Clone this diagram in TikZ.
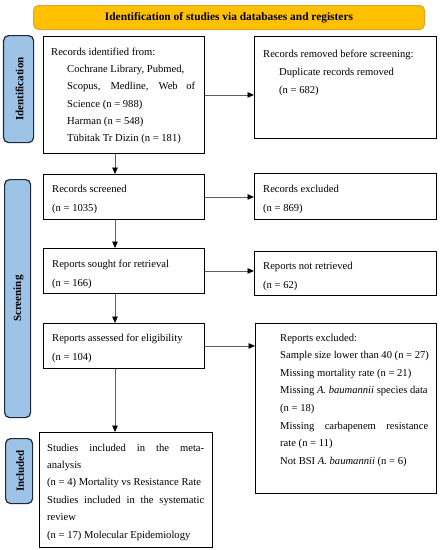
\documentclass[tikz,border=0pt]{standalone}
\usepackage{fontspec}
\setmainfont{Liberation Serif}
\usetikzlibrary{arrows.meta}
\definecolor{barblue}{RGB}{157,195,230}
\definecolor{barline}{RGB}{30,40,55}
\definecolor{bannergold}{RGB}{255,192,0}
\definecolor{bannerline}{RGB}{222,165,40}
\definecolor{arrgray}{RGB}{95,95,95}
\begin{document}
\begin{tikzpicture}[x=1pt,y=-1pt,
 box/.style={draw=black, line width=0.9pt, inner sep=0, anchor=north west},
 bar/.style={draw=barline, fill=barblue, rounded corners=5pt, line width=1.2pt, inner sep=0, anchor=north west},
 banner/.style={draw=bannerline, fill=bannergold, rounded corners=5pt, line width=1pt, inner sep=0, anchor=north west, font=\bfseries\fontsize{11.4}{13}\selectfont},
 txt/.style={inner sep=0, anchor=north west, align=left, font=\fontsize{10.6}{17.3}\selectfont},
 txtw/.style={inner sep=0, anchor=north west, align=left, font=\fontsize{10.6}{19}\selectfont},
 bartxt/.style={rotate=90, inner sep=0, font=\bfseries\fontsize{11}{13}\selectfont},
 arr/.style={draw=arrgray, line width=0.8pt, -{Triangle[length=6.5pt,width=5.5pt,color=black]}},
]
\useasboundingbox (0,0) rectangle (442,550);
\node[banner, minimum width=391pt, minimum height=24pt] (banner) at (33,5) {Identification of studies via databases and registers};

\node[bar, minimum width=30pt, minimum height=107pt] (idbar) at (3,35) {};
\node[bar, minimum width=26pt, minimum height=238pt] (scbar) at (4,179) {};
\node[bar, minimum width=27pt, minimum height=65pt] (inbar) at (5,438) {};
\node[bartxt] (idlab) at ([xshift=1pt]idbar.center) {Identification};
\node[bartxt] (sclab) at ([xshift=1pt]scbar.center) {Screening};
\node[bartxt] (inlab) at ([xshift=1pt]inbar.center) {Included};

\node[box, minimum width=161pt, minimum height=117pt] (b1) at (43,36) {};
\node[box, minimum width=182pt, minimum height=102pt] (b2) at (254,36) {};
\node[box, minimum width=161pt, minimum height=45pt] (b3) at (43,174) {};
\node[box, minimum width=182pt, minimum height=46pt] (b4) at (254,173) {};
\node[box, minimum width=161pt, minimum height=45pt] (b5) at (43,248) {};
\node[box, minimum width=182pt, minimum height=44pt] (b6) at (254,251) {};
\node[box, minimum width=161pt, minimum height=45pt] (b7) at (43,323) {};
\node[box, minimum width=181pt, minimum height=170pt] (b8) at (255,323) {};
\node[box, minimum width=173pt, minimum height=115pt] (b9) at (39,432) {};

\node[txt] (t1) at (51,47.5) {Records identified from:\\
\hspace*{16pt}Cochrane Library, Pubmed,\\
\hspace*{16pt}\makebox[128pt][s]{Scopus, Medline, Web of}\\
\hspace*{16pt}Science (n = 988)\\
\hspace*{16pt}Harman (n = 548)\\
\hspace*{16pt}Tübitak Tr Dizin (n = 181)};
\node[txt, font=\fontsize{10.6}{18}\selectfont] (t2) at (263,49.5) {Records removed before screening:\\
\hspace*{16pt}Duplicate records removed\\
\hspace*{16pt}(n = 682)};
\node[txtw] (t3) at (52,184.5) {Records screened\\(n = 1035)};
\node[txtw] (t4) at (263,184.5) {Records excluded\\(n = 869)};
\node[txtw] (t5) at (52,259.5) {Reports sought for retrieval\\(n = 166)};
\node[txtw] (t6) at (263,261.5) {Reports not retrieved\\(n = 62)};
\node[txtw] (t7) at (52,333.5) {Reports assessed for eligibility\\(n = 104)};
\node[txt, font=\fontsize{10.6}{17.6}\selectfont] (t8) at (280,333.5) {Reports excluded:\\
Sample size lower than 40 (n = 27)\\
Missing mortality rate (n = 21)\\
Missing \textit{A. baumannii} species data\\
(n = 18)\\
\makebox[148pt][s]{Missing carbapenem resistance}\\
rate (n = 11)\\
Not BSI \textit{A. baumannii} (n = 6)};
\node[txt, font=\fontsize{10.6}{17.4}\selectfont] (t9) at (47,443.5) {\makebox[157pt][s]{Studies included in the meta-}\\
analysis\\
(n = 4) Mortality vs Resistance Rate\\
\makebox[157pt][s]{Studies included in the systematic}\\
review\\
(n = 17) Molecular Epidemiology};

\coordinate (ax) at (115,0);
\draw[arr] (b1.east) -- (b1.east -| b2.west);
\draw[arr] (b3.east) -- (b3.east -| b4.west);
\draw[arr] (b5.east) -- (b5.east -| b6.west);
\draw[arr] (b7.east) -- (b7.east -| b8.west);
\draw[arr] (b1.south -| ax) -- (b3.north -| ax);
\draw[arr] (b3.south -| ax) -- (b5.north -| ax);
\draw[arr] (b5.south -| ax) -- (b7.north -| ax);
\draw[arr] (b7.south -| ax) -- (b9.north -| ax);
\end{tikzpicture}
\end{document}
